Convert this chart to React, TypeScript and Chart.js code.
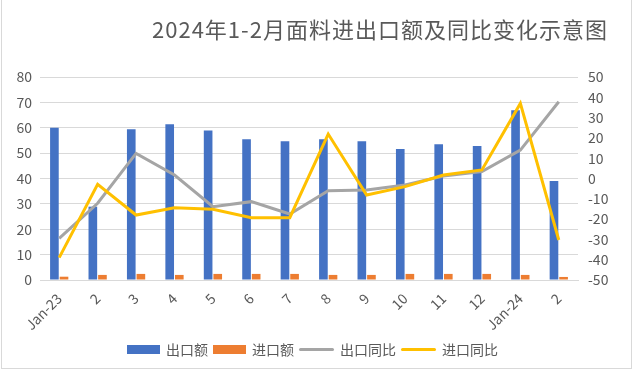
import React, { useEffect, useRef } from "react";
import { Chart, registerables } from "chart.js";

Chart.register(...registerables);

const categories = ["Jan-23", "2", "3", "4", "5", "6", "7", "8", "9", "10", "11", "12", "Jan-24", "2"];
const exportAmount = [60.0, 28.9, 59.4, 61.4, 58.9, 55.5, 54.7, 55.5, 54.7, 51.6, 53.5, 52.8, 66.9, 39.0];
const importAmount = [1.3, 2.0, 2.4, 2.0, 2.4, 2.4, 2.4, 2.0, 2.0, 2.4, 2.4, 2.4, 2.0, 1.2];
const exportYoY = [-29.5, -12.2, 12.4, 1.7, -13.9, -11.4, -17.5, -6.0, -5.7, -3.2, 1.2, 3.4, 14.0, 37.8];
const importYoY = [-39.0, -2.9, -18.0, -14.4, -15.2, -19.3, -19.3, 21.9, -8.1, -4.0, 1.7, 4.2, 37.0, -30.3];

const titleText = "2024年1-2月面料进出口额及同比变化示意图";
const seriesNames = ["出口额", "进口额", "出口同比", "进口同比"];
const colors = ["#4472C4", "#ED7D31", "#A5A5A5", "#FFC000"];

const FONT = "'Noto Sans CJK SC', 'Noto Sans', sans-serif";
const TEXT = "#595959";

export default function App() {
  const ref = useRef<HTMLCanvasElement | null>(null);

  useEffect(() => {
    if (!ref.current) return;
    const chart = new Chart(ref.current, {
      type: "bar",
      data: {
        labels: categories,
        datasets: [
          {
            type: "bar",
            label: seriesNames[0],
            data: exportAmount,
            backgroundColor: colors[0],
            yAxisID: "y",
            order: 2,
            categoryPercentage: 0.5,
            barPercentage: 0.9,
          },
          {
            type: "bar",
            label: seriesNames[1],
            data: importAmount,
            backgroundColor: colors[1],
            yAxisID: "y",
            order: 2,
            categoryPercentage: 0.5,
            barPercentage: 0.9,
          },
          {
            type: "line",
            label: seriesNames[2],
            data: exportYoY,
            borderColor: colors[2],
            backgroundColor: colors[2],
            borderWidth: 3,
            pointRadius: 0,
            tension: 0,
            yAxisID: "y1",
            order: 1,
          },
          {
            type: "line",
            label: seriesNames[3],
            data: importYoY,
            borderColor: colors[3],
            backgroundColor: colors[3],
            borderWidth: 3,
            pointRadius: 0,
            tension: 0,
            yAxisID: "y1",
            order: 0,
          },
        ] as any,
      },
      options: {
        animation: false,
        responsive: false,
        layout: { padding: { top: 77, bottom: 31, left: 0, right: 0 } },
        plugins: {
          legend: { display: false },
          title: { display: false },
          tooltip: { enabled: false },
        },
        scales: {
          x: {
            offset: true,
            grid: { display: false },
            border: { display: true, color: "#D9D9D9" },
            ticks: {
              color: TEXT,
              font: { family: FONT, size: 14 },
              maxRotation: 45,
              minRotation: 45,
              autoSkip: false,
              padding: 2,
            },
            afterFit: (s: any) => {
              s.height = 60;
            },
          },
          y: {
            position: "left",
            min: 0,
            max: 80,
            ticks: { stepSize: 10, color: TEXT, font: { family: FONT, size: 14 }, padding: 8 },
            grid: { color: "#D9D9D9", drawTicks: false },
            border: { display: false },
            afterFit: (s: any) => {
              s.width = 40;
            },
          },
          y1: {
            position: "right",
            min: -50,
            max: 50,
            ticks: { stepSize: 10, color: TEXT, font: { family: FONT, size: 14 }, padding: 10 },
            grid: { display: false, drawTicks: false },
            border: { display: false },
            afterFit: (s: any) => {
              s.width = 56;
            },
          },
        },
      },
    });
    return () => chart.destroy();
  }, []);

  const legendItem = (i: number) => (
    <div key={i} style={{ display: "flex", alignItems: "center", marginRight: 5 }}>
      {i < 2 ? (
        <span style={{ display: "inline-block", width: 33, height: 9, background: colors[i] }} />
      ) : (
        <span
          style={{ display: "inline-block", width: 35, height: 3, background: colors[i], borderRadius: 2 }}
        />
      )}
      <span style={{ marginLeft: 6, fontSize: 14, color: TEXT, fontFamily: FONT, whiteSpace: "nowrap" }}>
        {seriesNames[i]}
      </span>
    </div>
  );

  return (
    <div
      style={{
        position: "fixed",
        left: 0,
        top: 0,
        width: 634,
        height: 371,
        background: "#fff",
        overflow: "hidden",
      }}
    >
      <div
        style={{
          position: "absolute",
          left: 1,
          top: 0,
          width: 631,
          height: 369,
          borderLeft: "1px solid #D9D9D9",
          borderRight: "1px solid #D9D9D9",
          borderBottom: "1px solid #D9D9D9",
          boxSizing: "border-box",
          pointerEvents: "none",
        }}
      />
      <canvas ref={ref} width={634} height={371} style={{ position: "absolute", left: 0, top: 0 }} />
      <div
        style={{
          position: "absolute",
          left: 152,
          top: 12,
          fontFamily: FONT,
          fontSize: 22,
          color: TEXT,
          whiteSpace: "nowrap",
          lineHeight: "32px",
          letterSpacing: 1,
        }}
      >
        {titleText}
      </div>
      <div
        style={{
          position: "absolute",
          left: 127,
          top: 339,
          display: "flex",
          alignItems: "center",
          height: 20,
        }}
      >
        {[0, 1, 2, 3].map(legendItem)}
      </div>
    </div>
  );
}
